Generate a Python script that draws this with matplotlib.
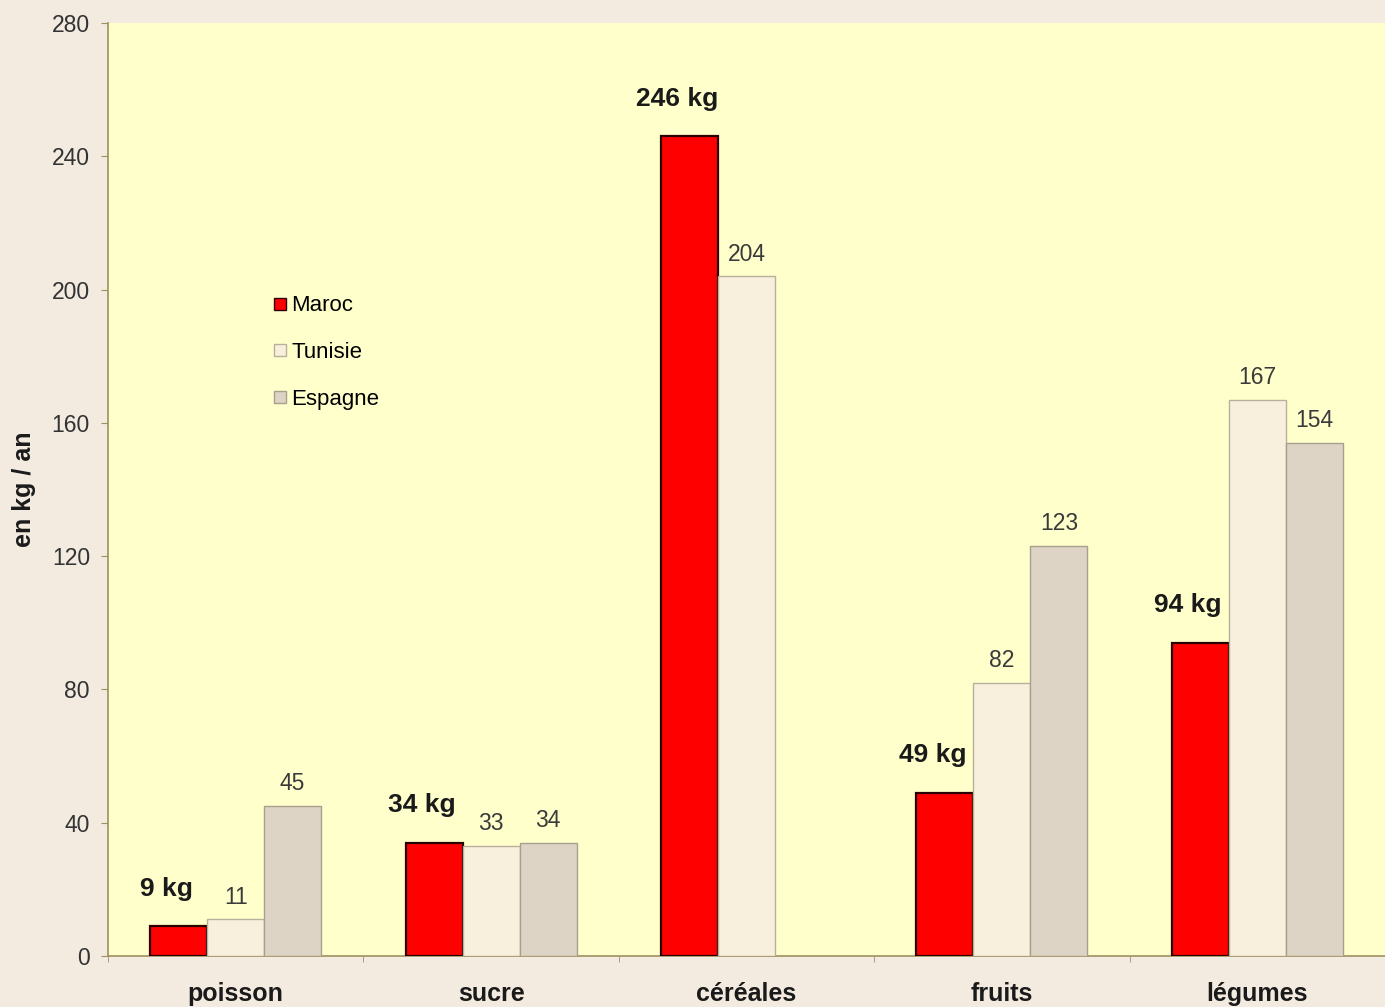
import numpy as np
import matplotlib
matplotlib.use("Agg")
import matplotlib.pyplot as plt
from matplotlib.lines import Line2D

# données (kg / an / habitant)
categories = ["poisson", "sucre", "céréales", "fruits", "légumes"]
maroc = [9, 34, 246, 49, 94]
tunisie = [11, 33, 204, 82, 167]
espagne = [45, 34, np.nan, 123, 154]
series = ["Maroc", "Tunisie", "Espagne"]

plt.rcParams["font.family"] = ["Liberation Sans", "DejaVu Sans"]

fig = plt.figure(figsize=(13.85, 10.07), dpi=100, facecolor="#F3EAE0")
ax = fig.add_axes([108 / 1385, 51 / 1007, 1 - 108 / 1385, (956 - 23) / 1007])
ax.set_facecolor("#FFFFCC")

x = np.arange(len(categories))
w = 0.223
styles = {
    "Maroc":   dict(color="#FF0000", edgecolor="#2A0000", linewidth=1.6),
    "Tunisie": dict(color="#F8EFDC", edgecolor="#B8B09C", linewidth=1.0),
    "Espagne": dict(color="#DDD4C5", edgecolor="#A89F8C", linewidth=1.0),
}
vals = {"Maroc": maroc, "Tunisie": tunisie, "Espagne": espagne}

for i, s in enumerate(series):
    pos = x + (i - 1) * w
    v = np.array(vals[s], dtype=float)
    ok = ~np.isnan(v)
    ax.bar(pos[ok], v[ok], width=w, zorder=3, **styles[s])
    for xp, val in zip(pos[ok], v[ok]):
        if s == "Maroc":
            ax.annotate(f"{int(val)} kg", (xp, val), xytext=(-9, 27),
                        textcoords="offset points", ha="center", va="center",
                        fontsize=19, fontweight="bold", color="#1A1A1A", zorder=4)
        else:
            ax.annotate(f"{int(val)}", (xp, val), xytext=(0, 16),
                        textcoords="offset points", ha="center", va="center",
                        fontsize=16.5, color="#3A3A3A", zorder=4)

ax.set_xlim(-0.5, len(categories) - 0.5)
ax.set_ylim(0, 280)
ax.set_yticks(range(0, 281, 40))
ax.set_xticks(x)
ax.set_xticklabels(categories, fontsize=18, fontweight="bold", color="#1A1A1A")
ax.set_xticks(np.arange(-0.5, len(categories)), minor=True)
ax.tick_params(axis="x", which="major", length=0, pad=19)
ax.tick_params(axis="x", which="minor", length=4, color="#A09060", direction="out")
ax.tick_params(axis="y", length=5, color="#A09060", labelsize=16.5, labelcolor="#333333", pad=8)

for side in ("top", "right"):
    ax.spines[side].set_visible(False)
for side in ("left", "bottom"):
    ax.spines[side].set_color("#A09060")
    ax.spines[side].set_linewidth(1.2)

ax.set_ylabel("en kg / an", fontsize=18, fontweight="bold", color="#1A1A1A", labelpad=11)

handles = [Line2D([0], [0], marker="s", linestyle="none", markersize=9,
                  markerfacecolor=styles[s]["color"], markeredgecolor=styles[s]["edgecolor"])
           for s in series]
ax.legend(handles, series, loc="upper left", bbox_to_anchor=(0.126, 0.708), frameon=False,
          fontsize=16, handletextpad=0.0, labelspacing=1.15, borderaxespad=0, handlelength=1.0,
          borderpad=0)

fig.savefig("out.png", dpi=100, facecolor=fig.get_facecolor())
